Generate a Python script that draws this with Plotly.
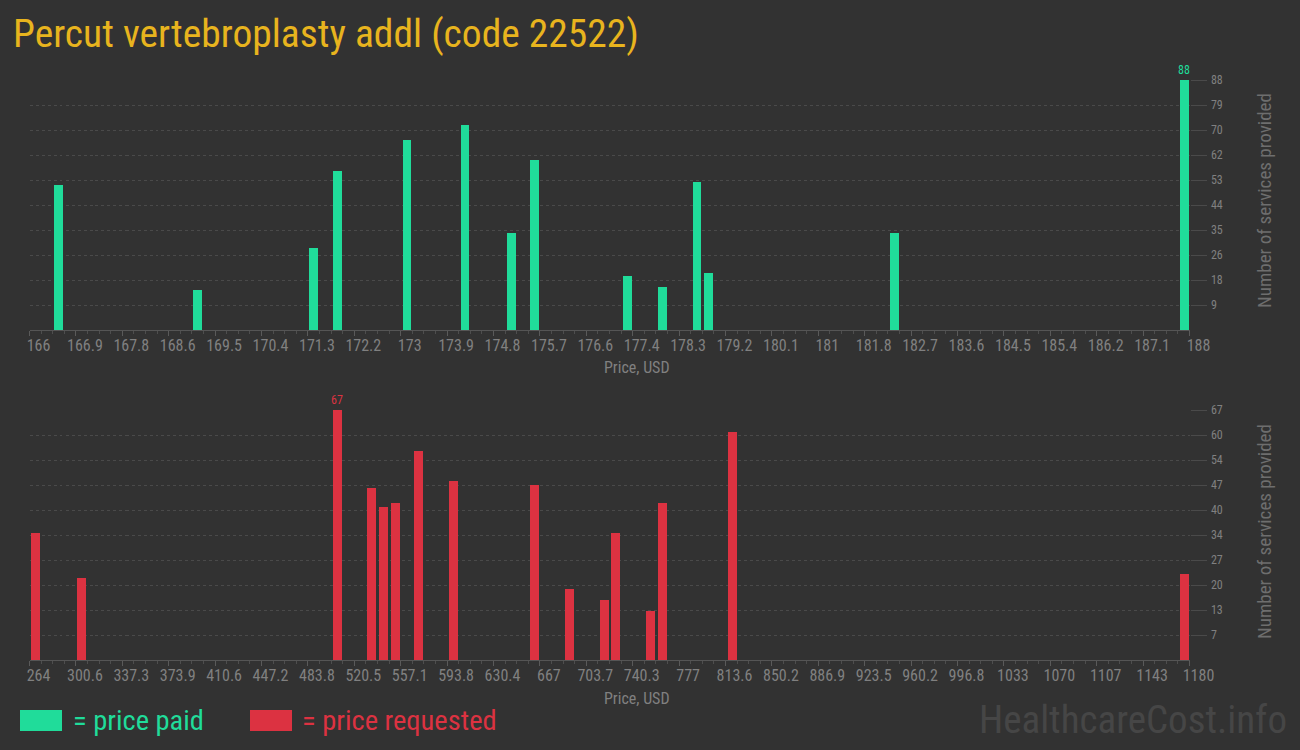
import plotly.graph_objects as go

# ---------------- data ----------------
title_text = "Percut vertebroplasty addl (code 22522)"

paid_prices = [166.54, 169.18, 171.38, 171.83, 173.15, 174.25, 175.13, 175.57,
               177.33, 177.99, 178.65, 178.87, 182.39, 187.90]
paid_counts = [51, 14, 29, 56, 67, 72, 34, 60, 19, 15, 52, 20, 34, 88]

req_prices = [268.3, 304.7, 506.6, 533.9, 543.4, 552.5, 570.7, 598.3,
              662.3, 690.0, 717.3, 726.7, 754.0, 763.1, 818.4, 1175.6]
req_counts = [34, 22, 67, 46, 41, 42, 56, 48, 47, 19, 16, 34, 13, 42, 61, 23]

top_x_labels = ["166", "166.9", "167.8", "168.6", "169.5", "170.4", "171.3", "172.2",
                "173", "173.9", "174.8", "175.7", "176.6", "177.4", "178.3", "179.2",
                "180.1", "181", "181.8", "182.7", "183.6", "184.5", "185.4", "186.2",
                "187.1", "188"]
bot_x_labels = ["264", "300.6", "337.3", "373.9", "410.6", "447.2", "483.8", "520.5",
                "557.1", "593.8", "630.4", "667", "703.7", "740.3", "777", "813.6",
                "850.2", "886.9", "923.5", "960.2", "996.8", "1033", "1070", "1107",
                "1143", "1180"]
top_y_labels = ["9", "18", "26", "35", "44", "53", "62", "70", "79", "88"]
bot_y_labels = ["7", "13", "20", "27", "34", "40", "47", "54", "60", "67"]

top_range = [166, 188]
bot_range = [264, 1180]

# ---------------- style ----------------
BG = "#323232"
GREEN = "#20DC9A"
RED = "#DC3241"
GOLD = "#E8B41E"
TICK = "#808080"
GRID = "#4A4A4A"
FONT = "Roboto Condensed, Liberation Sans Narrow, DejaVu Sans Condensed, Roboto, sans-serif"

W, H = 1300, 750


def px_x(p):
    return p / W


def px_y(p):
    return 1 - p / H


def lin(lo, hi, n):
    return [lo + (hi - lo) * k / n for k in range(n + 1)]


fig = go.Figure()

pmax = max(paid_counts)
rmax = max(req_counts)

fig.add_trace(go.Bar(
    x=paid_prices, y=paid_counts, width=0.17, marker=dict(color=GREEN, line=dict(width=0)),
    text=[str(v) if v == pmax else "" for v in paid_counts], textposition="outside",
    constraintext="none",
    textfont=dict(color=GREEN, size=12, family=FONT), cliponaxis=False,
    xaxis="x", yaxis="y", showlegend=False, hoverinfo="x+y"))

fig.add_trace(go.Bar(
    x=req_prices, y=req_counts, width=7.1, marker=dict(color=RED, line=dict(width=0)),
    text=[str(v) if v == rmax else "" for v in req_counts], textposition="outside",
    constraintext="none",
    textfont=dict(color=RED, size=12, family=FONT), cliponaxis=False,
    xaxis="x2", yaxis="y2", showlegend=False, hoverinfo="x+y"))

xdom = [px_x(29.5), px_x(1189.5)]


def xaxis_cfg(rng, labels, ydomain_anchor):
    n = len(labels) - 1
    vals = lin(rng[0], rng[1], n)
    minor_vals = lin(rng[0], rng[1], n * 4)
    return dict(
        domain=xdom, range=rng, anchor=ydomain_anchor, automargin=False,
        tickmode="array", tickvals=vals, ticktext=labels,
        ticks="outside", ticklen=5, tickwidth=1, tickcolor="#5a5a5a",
        minor=dict(tickmode="array", tickvals=minor_vals, ticks="outside",
                   ticklen=3, tickcolor="#4e4e4e", showgrid=False),
        showline=True, linecolor="#555555", linewidth=1,
        showgrid=False, zeroline=False,
        tickfont=dict(family=FONT, size=16, color=TICK),
        ticklabelshift=9, ticklabelstandoff=-4,
        fixedrange=True,
    )


def yaxis_cfg(ymax, labels, ydom, xanchor):
    vals = [ymax * (k + 1) / len(labels) for k in range(len(labels))]
    return dict(
        domain=ydom, range=[0, ymax], anchor=xanchor, side="right", automargin=False,
        tickmode="array", tickvals=vals, ticktext=labels,
        ticks="outside", ticklen=16, tickcolor=GRID, tickwidth=1,
        showgrid=True, gridcolor=GRID, griddash="3px,3px", gridwidth=1,
        zeroline=False, showline=False,
        tickfont=dict(family=FONT, size=12, color=TICK),
        ticklabelstandoff=2,
        fixedrange=True,
    )


fig.update_layout(
    width=W, height=H, autosize=False,
    paper_bgcolor=BG, plot_bgcolor=BG,
    margin=dict(l=0, r=0, t=0, b=0, pad=0, autoexpand=False),
    bargap=0,
    xaxis=xaxis_cfg(top_range, top_x_labels, "y"),
    yaxis=yaxis_cfg(pmax, top_y_labels, [px_y(330), px_y(80)], "x"),
    xaxis2=xaxis_cfg(bot_range, bot_x_labels, "y2"),
    yaxis2=yaxis_cfg(rmax, bot_y_labels, [px_y(660), px_y(410)], "x2"),
    title=dict(text=title_text, x=px_x(13), xanchor="left", xref="paper",
               y=px_y(33), yanchor="middle", yref="paper", automargin=False,
               font=dict(family=FONT, size=39.5, color=GOLD)),
    font=dict(family=FONT, color=TICK),
)

annotations = []
for yc in (368, 698):
    annotations.append(dict(text="Price, USD", x=px_x(637), y=px_y(yc), xref="paper", yref="paper",
                            showarrow=False, xanchor="center", yanchor="middle",
                            font=dict(family=FONT, size=16, color=TICK)))
for yc in (201, 532):
    annotations.append(dict(text="Number of services provided", x=px_x(1264), y=px_y(yc),
                            xref="paper", yref="paper", showarrow=False, textangle=-90,
                            xanchor="center", yanchor="middle",
                            font=dict(family=FONT, size=19, color="#6e6e6e")))
annotations.append(dict(text="= price paid", x=px_x(71), y=px_y(720), xref="paper", yref="paper",
                        showarrow=False, xanchor="left", yanchor="middle",
                        font=dict(family=FONT, size=28.5, color=GREEN)))
annotations.append(dict(text="= price requested", x=px_x(300), y=px_y(720), xref="paper", yref="paper",
                        showarrow=False, xanchor="left", yanchor="middle",
                        font=dict(family=FONT, size=28.5, color=RED)))
annotations.append(dict(text="HealthcareCost.info", x=px_x(1289), y=px_y(720), xref="paper", yref="paper",
                        showarrow=False, xanchor="right", yanchor="middle",
                        font=dict(family=FONT, size=39, color="#464646")))
fig.update_layout(annotations=annotations)

fig.update_layout(shapes=[
    dict(type="rect", xref="paper", yref="paper", x0=px_x(20), x1=px_x(62),
         y0=px_y(731), y1=px_y(710), fillcolor=GREEN, line=dict(width=0)),
    dict(type="rect", xref="paper", yref="paper", x0=px_x(250), x1=px_x(292),
         y0=px_y(731), y1=px_y(710), fillcolor=RED, line=dict(width=0)),
])

fig.write_html("out.html", config={"displayModeBar": False},
               post_script="document.body.style.margin='0';document.body.style.overflow='hidden';")
